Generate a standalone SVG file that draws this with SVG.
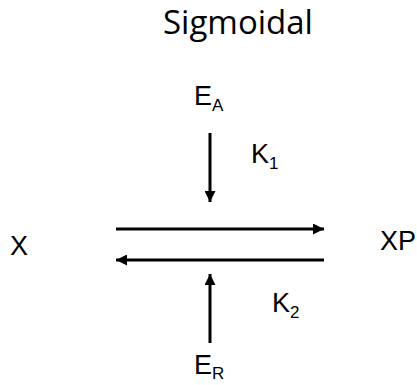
<svg xmlns="http://www.w3.org/2000/svg" width="417" height="385" viewBox="0 0 417 385">
<style>
.t{font-family:"Liberation Sans",Arial,sans-serif;font-size:27px;fill:#000}
.s{font-family:"Liberation Sans",Arial,sans-serif;font-size:17px;fill:#000}
.title{font-family:"Open Sans","Noto Sans",sans-serif;font-size:33px;fill:#000}
.c{stroke:#000;stroke-width:3;fill:none}
</style>
<defs>
<marker id="ah" viewBox="0 0 10 10" refX="10" refY="5" markerWidth="11" markerHeight="11" markerUnits="userSpaceOnUse" orient="auto">
<path d="M0,0 L10,5 L0,10 Z" fill="#000"/>
</marker>
</defs>
<rect width="417" height="385" fill="#fff"/>
<text class="title" x="163" y="34">Sigmoidal</text>
<g id="EA"><text class="t" x="194" y="105">E<tspan class="s" dy="6">A</tspan></text></g>
<g id="K1"><text class="t" x="251" y="163">K<tspan class="s" dy="6">1</tspan></text></g>
<g id="X"><text class="t" x="10" y="255">X</text></g>
<g id="XP"><text class="t" x="380" y="250">XP</text></g>
<g id="K2"><text class="t" x="272" y="312">K<tspan class="s" dy="6">2</tspan></text></g>
<g id="ER"><text class="t" x="194" y="374">E<tspan class="s" dy="5">R</tspan></text></g>
<g id="connectors">
<line class="c" x1="210" y1="133" x2="210" y2="202" marker-end="url(#ah)"/>
<line class="c" x1="116" y1="229" x2="324" y2="229" marker-end="url(#ah)"/>
<line class="c" x1="324" y1="260" x2="116" y2="260" marker-end="url(#ah)"/>
<line class="c" x1="210" y1="343" x2="210" y2="274" marker-end="url(#ah)"/>
</g>
</svg>
